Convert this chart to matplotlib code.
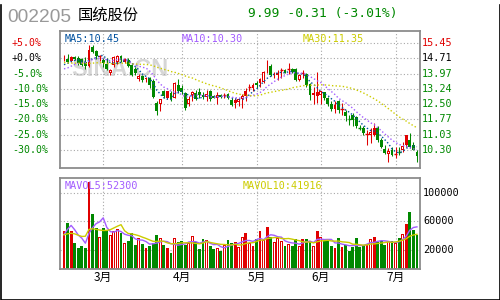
import numpy as np
import matplotlib
matplotlib.use("Agg")
import matplotlib.pyplot as plt
from matplotlib.patches import Rectangle

# ---- daily bars (oldest first) ----
opens = [14.70, 14.66, 14.60, 14.76, 14.72, 14.68, 14.52, 14.36, 15.25, 15.05,
         14.80, 14.63, 14.44, 13.99, 14.40, 14.55, 14.80, 14.55, 14.63, 14.39,
         14.20, 13.72, 13.85, 13.70, 13.75, 13.60, 12.55, 12.50, 13.11, 12.80,
         13.03, 12.82, 13.40, 13.30, 13.05, 12.50, 12.95, 13.05, 13.08, 12.95,
         12.85, 13.14, 12.88, 12.82, 12.92, 12.93, 12.98, 12.71, 12.55, 12.60,
         12.74, 12.87, 13.33, 13.27, 13.54, 13.51, 13.59, 14.12, 14.36, 13.94,
         13.92, 14.13, 14.15, 14.18, 14.20, 14.20, 13.67, 13.97, 13.96, 13.45,
         12.95, 12.90, 12.95, 13.08, 12.80, 12.52, 12.26, 12.63, 12.24, 12.10,
         11.78, 11.99, 11.87, 11.37, 11.35, 11.05, 11.02, 11.02, 11.35, 10.78,
         10.34, 10.11, 10.30, 10.08, 10.22, 10.30, 10.54, 10.78, 10.52, 10.22]
highs = [14.85, 14.90, 14.80, 14.80, 14.80, 14.72, 14.75, 15.36, 15.36, 15.10,
         14.85, 14.71, 14.71, 14.20, 14.80, 14.85, 14.85, 14.72, 14.70, 14.45,
         14.30, 13.95, 13.90, 13.82, 13.80, 13.70, 12.63, 12.76, 13.20, 13.15,
         13.11, 13.55, 13.70, 13.40, 13.10, 12.87, 13.15, 13.20, 13.27, 13.10,
         13.19, 13.19, 12.95, 13.08, 12.98, 13.03, 13.02, 12.79, 12.79, 12.82,
         12.98, 13.27, 13.46, 13.51, 13.60, 13.75, 14.10, 14.63, 14.45, 14.07,
         14.15, 14.23, 14.20, 14.47, 14.25, 14.23, 13.95, 14.15, 14.00, 13.50,
         13.35, 14.07, 13.15, 13.10, 12.85, 12.63, 12.63, 12.71, 12.55, 12.23,
         11.99, 12.07, 11.91, 11.51, 11.43, 11.27, 11.35, 11.59, 11.43, 10.86,
         10.54, 10.38, 10.46, 10.46, 10.46, 10.70, 11.02, 11.10, 10.70, 10.30]
lows = [14.58, 14.47, 14.55, 14.62, 14.40, 14.36, 14.20, 14.30, 14.95, 14.68,
        14.58, 14.30, 14.15, 13.88, 14.30, 14.45, 14.55, 14.50, 14.30, 13.85,
        13.90, 13.60, 13.55, 13.55, 13.30, 12.80, 11.99, 12.15, 12.79, 12.75,
        12.63, 12.78, 13.05, 13.00, 12.23, 12.39, 12.63, 12.70, 12.79, 12.75,
        12.66, 12.63, 12.79, 12.50, 12.80, 12.79, 12.75, 12.39, 12.31, 12.39,
        12.31, 12.63, 13.11, 13.14, 13.30, 13.35, 13.50, 13.99, 13.85, 13.75,
        13.67, 13.75, 13.98, 13.94, 14.00, 13.60, 13.60, 13.75, 13.35, 12.70,
        12.50, 12.55, 12.50, 12.70, 12.40, 12.15, 12.07, 12.07, 11.99, 11.67,
        11.51, 11.43, 11.35, 11.27, 11.02, 10.54, 10.62, 10.95, 10.70, 10.38,
        10.11, 9.74, 10.01, 9.90, 10.06, 10.22, 10.46, 10.38, 10.28, 9.74]
closes = [14.73, 14.52, 14.76, 14.65, 14.50, 14.40, 14.36, 15.11, 15.03, 14.80,
          14.83, 14.47, 14.20, 14.15, 14.75, 14.82, 14.62, 14.65, 14.36, 13.91,
          13.99, 13.85, 13.65, 13.78, 13.43, 12.85, 12.15, 12.74, 12.87, 13.11,
          12.76, 13.51, 13.14, 13.10, 12.31, 12.74, 13.10, 12.75, 12.92, 12.85,
          12.98, 12.76, 12.82, 12.95, 12.85, 12.95, 12.78, 12.47, 12.71, 12.77,
          12.87, 13.11, 13.35, 13.40, 13.42, 13.72, 14.04, 14.15, 13.88, 13.97,
          14.00, 14.15, 14.00, 14.20, 14.04, 13.67, 13.91, 14.00, 13.40, 12.92,
          13.05, 13.10, 13.15, 12.80, 12.50, 12.26, 12.47, 12.20, 12.26, 11.91,
          11.75, 11.75, 11.46, 11.35, 11.10, 11.07, 11.18, 11.35, 10.78, 10.46,
          10.17, 10.27, 10.06, 10.10, 10.20, 10.49, 11.02, 10.46, 10.30, 9.99]
volumes = [47000, 57700, 47000, 29800, 22800, 25100, 22800, 114900, 70200, 50700,
           38100, 50700, 48400, 40500, 47000, 49300, 43700, 29800, 33000, 43700,
           27400, 36700, 28400, 22800, 26000, 29800, 41400, 36700, 27400, 22800,
           15800, 36700, 31200, 32100, 26500, 29800, 39100, 30700, 21400, 35300,
           34400, 25100, 21400, 22800, 19100, 27400, 34400, 29800, 31200, 23700,
           38100, 43700, 29800, 25100, 35300, 47000, 34400, 52100, 37700, 31200,
           36700, 32100, 26000, 28400, 26000, 35300, 25100, 35300, 35300, 31200,
           25100, 47000, 37700, 32100, 32100, 25100, 22800, 36700, 24200, 27400,
           19100, 24200, 36700, 24200, 27400, 28400, 35300, 38100, 31200, 32100,
           27000, 32100, 32000, 29400, 37160, 42300, 56300, 73000, 48400, 41500]
# r = up (hollow), R = up (solid), g = down
kinds = ("RgRggggRggrggrrrgrgggrgRgggrgRgrgggrrggg"
         "rggrgrggRrrRrRgRrRgrrrgrggrRggrRrgggRgRg"
         "gggggrrRgggrgrgrRggg")

# sessions before the window, estimated from where the MA lines start
pre_closes = [14.9, 15.1, 14.8, 14.6, 14.5, 14.7, 14.9, 14.6, 14.4, 14.5,
              14.8, 15.0, 14.7, 14.5, 14.6, 14.4, 14.3, 14.6, 14.8, 14.3,
              14.1, 13.9, 13.8, 14.0, 14.2, 14.2, 14.3, 14.4, 14.37]
pre_volumes = [45000, 40000, 38000, 42000, 42000, 20000, 20000, 60000, 60000]

month_pos = [11, 33, 54, 72, 93]
month_labels = ["3月", "4月", "5月", "6月", "7月"]

base_price = 14.71
pct_levels = [5, 0, -5, -10, -15, -20, -25, -30]
vol_ticks = [100000, 60000, 20000]

legend_price = [("MA5", "10.45"), ("MA10", "10.30"), ("MA30", "11.35")]
legend_vol = [("MAVOL5", "52300"), ("MAVOL10", "41916")]

RED = "#e00000"
GREEN = "#008800"
BLUE = "#00509e"
PURPLE = "#a35cff"
YELLOW = "#cccc00"
GRIDC = "#a8a8a8"
FRAME = "#8c8c8c"
CJK = ["Noto Sans CJK SC", "DejaVu Sans"]
MONO = "DejaVu Sans Mono"
BODY_W = 0.8     # bar width in session units (~3 px)
INNER_W = 0.26   # white core of hollow bars (~1 px)


def moving_avg(values, prev, n):
    full = np.asarray(list(prev) + list(values), dtype=float)
    out = np.convolve(full, np.ones(n) / n, mode="valid")
    return out[-len(values):]


def draw_box(a, x, lo, hi, col, hollow, px_y):
    # solid box, plus a white core for hollow ones
    a.add_patch(Rectangle((x - BODY_W / 2, lo), BODY_W, hi - lo,
                          facecolor=col, lw=0, zorder=4))
    if hollow and hi - lo > 2.5 * px_y:
        a.add_patch(Rectangle((x - INNER_W / 2, lo + px_y), INNER_W,
                              hi - lo - 2 * px_y, facecolor="white", lw=0,
                              zorder=4.5))


W, H = 500, 300
fig = plt.figure(figsize=(W / 100, H / 100), dpi=100)
fig.patch.set_facecolor("white")


def fx(px):
    return px / W


def fy(py):
    return 1 - py / H


# outer black frame
fig.add_artist(plt.Line2D([fx(0.5), fx(0.5), fx(499.5), fx(499.5)],
                          [fy(5), fy(299.5), fy(299.5), fy(5)],
                          color="black", lw=1.2, transform=fig.transFigure))

ax = fig.add_axes([fx(60), fy(168), fx(420) - fx(60), fy(31) - fy(168)])
axv = fig.add_axes([fx(60), fy(269), fx(420) - fx(60), fy(178) - fy(269)])

n = len(closes)
xs = np.arange(n)
xlim = (-1.12, 99.86)

for a in (ax, axv):
    a.set_xlim(*xlim)
    a.set_xticks([])
    a.set_yticks([])
    for sp in a.spines.values():
        sp.set_color(FRAME)
        sp.set_linewidth(1.3)
        sp.set_zorder(6)
    for m in month_pos:
        a.axvline(m, color=GRIDC, lw=0.8, ls=(0, (1, 2)), zorder=1)

# ---- price panel ----
ax.set_ylim(9.43, 16.02)
px_price = (16.02 - 9.43) / 137.0
pct_prices = [base_price * (1 + p / 100) for p in pct_levels]
for p in pct_prices:
    ax.axhline(p, color=GRIDC, lw=0.8, ls=(0, (1, 2)), zorder=1)

ax.text(0.03, 0.72, "SINA.CN", transform=ax.transAxes, fontsize=17,
        fontweight="bold", family="Liberation Sans", color="#d6d6d6",
        ha="left", va="center", zorder=0)

for i in xs:
    o, h, l, c, k = opens[i], highs[i], lows[i], closes[i], kinds[i]
    col = RED if k in "rR" else GREEN
    ax.vlines(i, l, h, color=col, lw=0.75, zorder=3)
    lo, hi = min(o, c), max(o, c)
    if hi - lo < 0.03:
        ax.hlines((lo + hi) / 2, i - 0.45, i + 0.45, color=col, lw=1.0,
                  zorder=4)
    else:
        draw_box(ax, i, lo, hi, col, k == "r", px_price)

ma_cols = [BLUE, PURPLE, YELLOW]
for (name, _), col in zip(legend_price, ma_cols):
    ma = moving_avg(closes, pre_closes, int(name[2:]))
    ax.plot(xs, ma, color=col, lw=1.0, ls=(0, (1, 1.6)), zorder=5)

for (name, val), col, px in zip(legend_price, ma_cols, [65, 182, 303]):
    fig.text(fx(px), fy(39), f"{name}:{val}", color=col, fontsize=7.3,
             family=MONO, ha="left", va="center")

for lvl, p in zip(pct_levels, pct_prices):
    col = RED if lvl > 0 else ("black" if lvl == 0 else GREEN)
    sign = "+" if lvl >= 0 else ""
    ax.text(-0.1333, p, f"{sign}{lvl:.1f}%", transform=ax.get_yaxis_transform(),
            color=col, fontsize=7.1, family=MONO, ha="left", va="center")
    ax.text(1.006, p, f"{p:.2f}", transform=ax.get_yaxis_transform(),
            color=col, fontsize=7.3, family=MONO, ha="left", va="center")

# ---- volume panel ----
vbottom, vtop = -6500, 120500
axv.set_ylim(vbottom, vtop)
px_vol = (vtop - vbottom) / 91.0
for t in vol_ticks:
    axv.axhline(t, color=GRIDC, lw=0.8, ls=(0, (1, 2)), zorder=1)
    axv.text(1.008, t, f"{t}", transform=axv.get_yaxis_transform(),
             color="black", fontsize=7.3, family=MONO, ha="left", va="center")

for i in xs:
    k = kinds[i]
    col = RED if k in "rR" else GREEN
    draw_box(axv, i, vbottom, volumes[i], col, k == "r", px_vol)

vol_cols = [PURPLE, YELLOW]
for (name, _), col in zip(legend_vol, vol_cols):
    mv = moving_avg(volumes, pre_volumes, int(name[5:]))
    axv.plot(xs, mv, color=col, lw=1.0, zorder=5)

for (name, val), col, px in zip(legend_vol, vol_cols, [65, 243]):
    fig.text(fx(px), fy(186), f"{name}:{val}", color=col, fontsize=7.3,
             family=MONO, ha="left", va="center")

for m, lab in zip(month_pos, month_labels):
    axv.text(m, -0.09, lab, transform=axv.get_xaxis_transform(), fontsize=8.5,
             family=CJK, ha="center", va="center", color="black")

# ---- header ----
fig.text(fx(7), fy(17), "002205", color="#999999", fontsize=13.8,
         family="Liberation Sans", ha="left", va="center")
fig.text(fx(78), fy(15), "国统股份", color="black", fontsize=11,
         family=CJK, ha="left", va="center")
fig.text(fx(248), fy(14), "9.99 -0.31 (-3.01%)", color=GREEN, fontsize=9.4,
         family=MONO, ha="left", va="center")

fig.savefig("out.png", dpi=100)
